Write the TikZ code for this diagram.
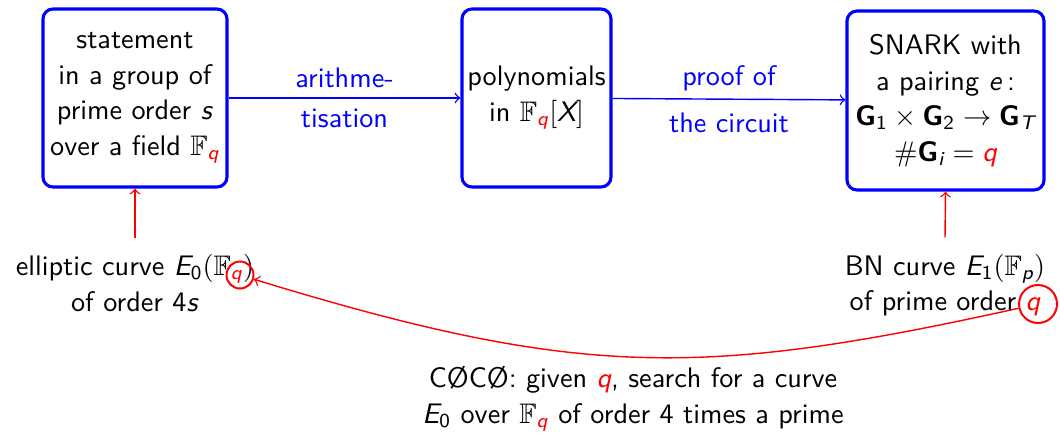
\documentclass[tikz,border=0pt]{standalone}
\usepackage{amsmath,amssymb}
\newdimen\px \px=0.354pt
\newcommand{\vi}[1]{\text{\itshape #1}}
\newcommand{\vq}{\textcolor{red}{\vi{q}}}
\newcommand{\bG}{\text{\bfseries G}}
\tikzset{
  box/.style={draw=blue, line width=1.1pt, rounded corners=10\px, align=center, inner sep=0pt},
  lbl/.style={text=blue, align=center},
  conn/.style={->, blue, line width=0.5pt},
  rconn/.style={->, red, line width=0.5pt},
  qring/.style={circle, draw=red, line width=0.7pt, inner sep=0pt},
  txt/.style={align=center, inner xsep=0pt}
}
\begin{document}
\begin{tikzpicture}[x=0.354pt, y=-0.354pt, font=\sffamily\fontsize{10}{12.6}\selectfont]
\useasboundingbox (0,0) rectangle (1060,432);
\node[box, minimum width=184\px, minimum height=178\px] (b1) at (135,98)
  {statement\\in a group of\\prime order \textit{s}\\over a field $\mathbb{F}_{\vq}$};
\node[box, minimum width=149\px, minimum height=178\px] (b2) at (536.5,98)
  {polynomials\\in $\mathbb{F}_{\vq}[\vi{X}]$};
\node[box, minimum width=197\px, minimum height=179\px] (b3) at (945.5,100.5)
  {SNARK with\\a pairing \textit{e}\,:\\$\bG_{\text{1}}\times\bG_{\text{2}}\to\bG_{\vi{T}}$\\$\#\bG_{\vi{i}}=\vq$};
\draw[conn] (b1) -- node[lbl] {arithme-\\[1.5pt]tisation} (b2);
\draw[conn] (b2) -- node[lbl] {proof of\\[4pt]the circuit} (b3);
\node[txt, inner ysep=16\px] (e0) at (135,283)
  {elliptic curve $\vi{E}_{\text{0}}(\mathbb{F}_{\vq})$\\of order 4\textit{s}};
\node[txt, inner ysep=16\px] (e1) at (945,285)
  {BN curve $\vi{E}_{\text{1}}(\mathbb{F}_{\vi{p}})$\\of prime order \vq};
\node[qring, minimum size=27\px] (c0) at (240,275) {};
\node[qring, minimum size=38\px] (c1) at (1038,304) {};
\draw[rconn] (e0.north) -- (b1.south);
\draw[rconn] (e1.north) -- (b3.south);
\draw[rconn] (c1) .. controls (702,378) and (580,379) .. (c0);
\node[txt] (cc) at (633,399)
  {C\O{}C\O{}: given \vq, search for a curve\\$\vi{E}_{\text{0}}$ over $\mathbb{F}_{\vq}$ of order 4 times a prime};
\end{tikzpicture}
\end{document}
